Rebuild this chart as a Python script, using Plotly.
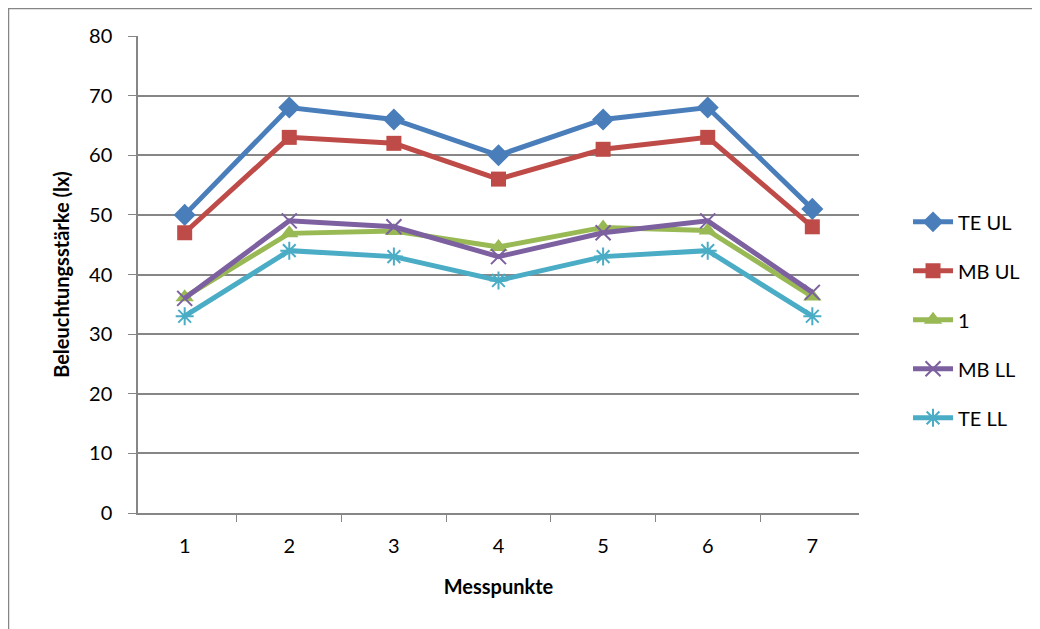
import plotly.graph_objects as go

categories = ["1", "2", "3", "4", "5", "6", "7"]
te_ul = [50, 68, 66, 60, 66, 68, 51]
mb_ul = [47, 63, 62, 56, 61, 63, 48]
one = [36.2, 46.9, 47.3, 44.6, 47.9, 47.4, 36.3]
mb_ll = [36, 49, 48, 43, 47, 49, 37]
te_ll = [33, 44, 43, 39, 43, 44, 33]

series = [
    ("TE UL", te_ul, "#4A7EBB", "diamond", 17),
    ("MB UL", mb_ul, "#BE4B48", "square", 15),
    ("1", one, "#98B954", "triangle-up", 16),
    ("MB LL", mb_ll, "#7D60A0", "x-thin-open", 15),
    ("TE LL", te_ll, "#4AACC5", "asterisk-open", 15),
]

fig = go.Figure()
for i, (name, vals, color, sym, size) in enumerate(series):
    fig.add_trace(go.Scatter(
        x=categories, y=vals, name=name, mode="lines+markers",
        line=dict(color=color, width=5),
        marker=dict(symbol=sym, size=size, color=color,
                    line=dict(color=color, width=2 if "open" in sym else 0)),
        legendgroup=f"g{i}",
    ))

font_family = "Lato, Carlito, Calibri, sans-serif"
fig.update_layout(
    width=1040, height=629,
    margin=dict(l=130, r=189, t=28, b=124),
    paper_bgcolor="white", plot_bgcolor="white",
    font=dict(family=font_family, size=20, color="black"),
    showlegend=True,
    legend=dict(x=1.068, y=0.405, xanchor="left", yanchor="middle",
                font=dict(size=20), tracegroupgap=20, itemwidth=40,
                bgcolor="rgba(0,0,0,0)"),
    xaxis=dict(
        type="category", tickson="boundaries", ticks="outside", ticklen=7,
        tickcolor="#868686", showline=True, linecolor="#868686", linewidth=1.5,
        showgrid=False, ticklabelstandoff=14,
        title=dict(text="<b>Messpunkte</b>", font=dict(size=20), standoff=24),
    ),
    yaxis=dict(
        range=[0, 80], dtick=10, ticks="outside", ticklen=8, tickcolor="#868686",
        showline=True, linecolor="#868686", linewidth=1.5,
        showgrid=True, gridcolor="#868686", gridwidth=1.5, zeroline=False,
        title=dict(text="<b>Beleuchtungsstärke (lx)</b>", font=dict(size=20), standoff=14),
        ticklabelstandoff=12,
    ),
    shapes=[dict(type="rect", xref="paper", yref="paper",
                 x0=-0.1796, x1=1.3, y0=-0.4, y1=1.0577,
                 line=dict(color="#868686", width=1.5))],
)

fig.write_html("out.html")
